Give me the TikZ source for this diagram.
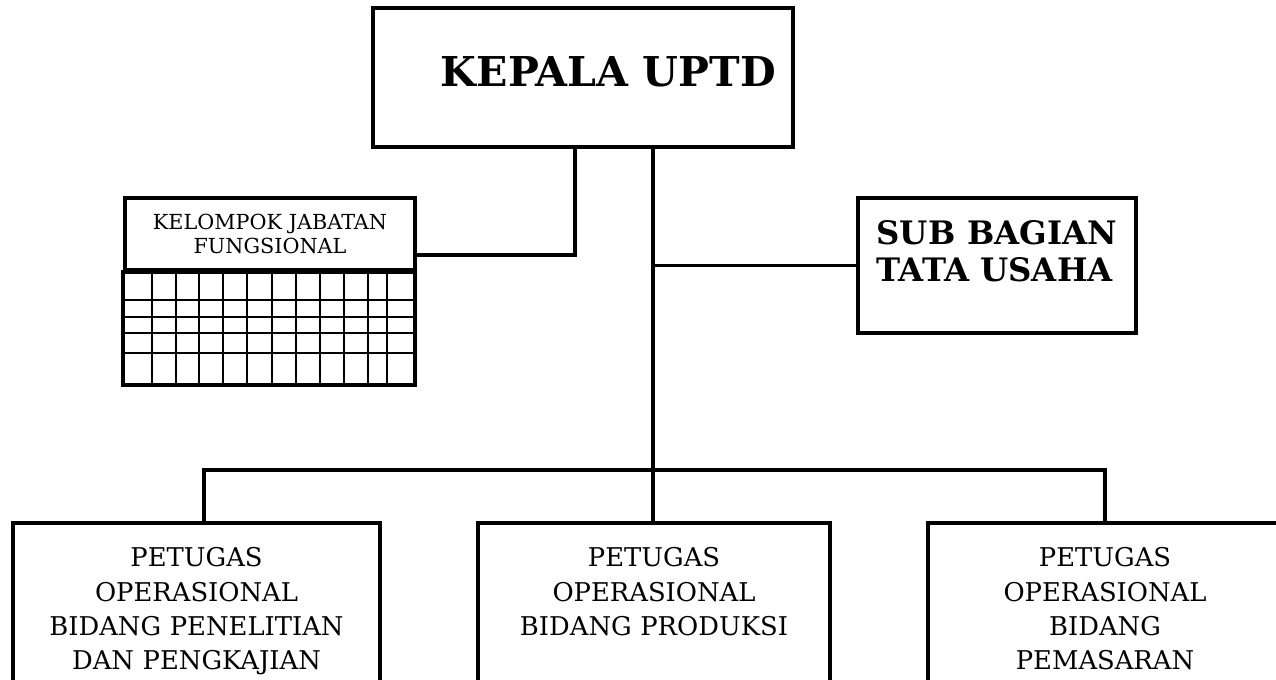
\documentclass[tikz,border=0pt]{standalone}
\usepackage{fontspec}
\setmainfont{DejaVu Serif}

\begin{document}
\begin{tikzpicture}[x=0.02cm,y=-0.02cm,
  box/.style={draw,line width=2.1pt,inner sep=0pt,align=center},
  petugas/.style={box,minimum height=3.2cm,text width=6.9cm,text depth=52pt,
    font=\fontsize{14.7}{19.5}\selectfont},
  link/.style={line width=1.8pt}]
  \useasboundingbox (0,0) rectangle (1276,680);
  \clip (0,0) rectangle (1276,680);
  % kepala
  \node[box,minimum width=8.4cm,minimum height=2.78cm,text depth=7pt,
    font=\fontsize{23.4}{28}\selectfont\bfseries] (kepala) at (583,77.5) {\hspace*{29pt}KEPALA UPTD};
  % kelompok jabatan fungsional
  \node[box,minimum width=5.8cm,minimum height=1.44cm,text width=5.6cm,
    font=\fontsize{11.8}{13.6}\selectfont] (jabatan) at (270,234) {KELOMPOK JABATAN\\FUNGSIONAL};
  \coordinate (gridend) at (415,385);
  \draw[box] (jabatan.south west) rectangle (gridend);
  \foreach \y in {300,317,333,353}
    \draw[line width=1.5pt] (125,\y) -- (415,\y);
  \foreach \x in {152,176,199,223,247,272,296,320,344,368,387}
    \draw[line width=1.5pt] (\x,270) -- (\x,385);
  % sub bagian
  \node[box,minimum width=5.56cm,minimum height=2.7cm,text width=137pt,align=left,
    text depth=37pt,font=\fontsize{18.4}{21}\selectfont\bfseries] (subbag) at (997,265.5)
    {SUB\hfill BAGIAN\\TATA USAHA};
  % petugas
  \node[petugas,minimum width=7.34cm] (p1) at (196.5,603) {PETUGAS\\OPERASIONAL\\BIDANG PENELITIAN\\DAN PENGKAJIAN};
  \node[petugas,minimum width=7.04cm] (p2) at (654,603) {PETUGAS\\OPERASIONAL\\BIDANG PRODUKSI};
  \node[petugas,minimum width=7.08cm] (p3) at (1105,603) {PETUGAS\\OPERASIONAL\\BIDANG\\PEMASARAN};
  % garis
  \coordinate (kj) at (575,255);
  \coordinate (bus) at (653,470);
  \coordinate (b1) at (204,470);
  \coordinate (b3) at (1105,470);
  \draw[link] (kepala.south -| kj) -- (kj) -- (kj -| jabatan.east);
  \draw[link] (kepala.south -| bus) -- (bus |- p2.north);
  \draw[link] (bus |- subbag.west) -- (subbag.west);
  \draw[link] (b1 |- p1.north) -- (b1) -- (b3) -- (b3 |- p3.north);
\end{tikzpicture}
\end{document}
